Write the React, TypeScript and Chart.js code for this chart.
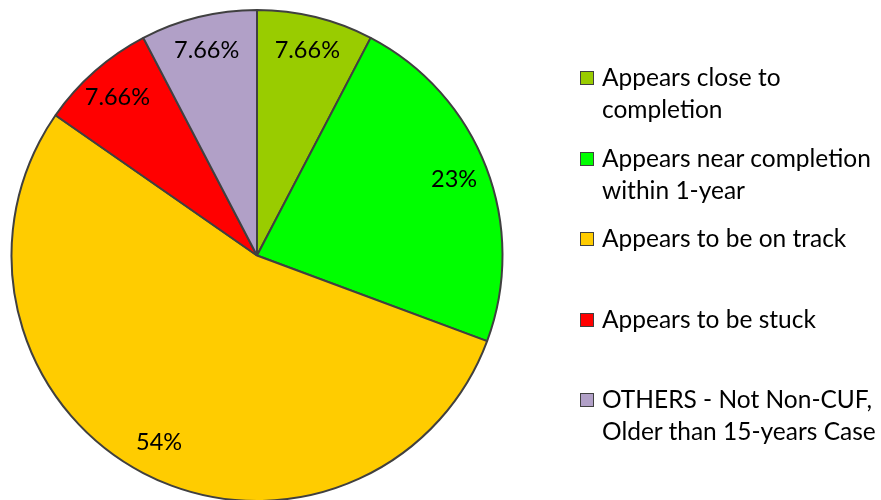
import React, { useEffect, useRef } from "react";
import { Chart, registerables } from "chart.js";

Chart.register(...registerables);

const categories = [
  "Appears close to completion",
  "Appears near completion within 1-year",
  "Appears to be on track",
  "Appears to be stuck",
  "OTHERS - Not Non-CUF, Older than 15-years Case",
];
const legendLines = [
  ["Appears close to", "completion"],
  ["Appears near completion", "within 1-year"],
  ["Appears to be on track"],
  ["Appears to be stuck"],
  ["OTHERS - Not Non-CUF,", "Older than 15-years Case"],
];
const values = [7.66, 23, 54, 7.66, 7.66];
const valueLabels = ["7.66%", "23%", "54%", "7.66%", "7.66%"];
const colors = ["#99CC00", "#00FF00", "#FFCC00", "#FF0000", "#B1A0C7"];

const FONT = "Lato, 'Open Sans', sans-serif";

const labelPlugin = {
  id: "sliceLabels",
  afterDatasetsDraw(chart: any) {
    const ctx = chart.ctx;
    const meta = chart.getDatasetMeta(0);
    ctx.save();
    ctx.fillStyle = "#000";
    ctx.font = `23.5px ${FONT}`;
    ctx.textAlign = "center";
    ctx.textBaseline = "middle";
    meta.data.forEach((arc: any, i: number) => {
      const p = arc.getProps(["x", "y", "startAngle", "endAngle", "outerRadius"], true);
      const mid = (p.startAngle + p.endAngle) / 2;
      const r = p.outerRadius * 0.86;
      ctx.fillText(valueLabels[i], p.x + Math.cos(mid) * r, p.y + Math.sin(mid) * r);
    });
    ctx.restore();
  },
};

export default function App() {
  const ref = useRef<HTMLCanvasElement | null>(null);
  useEffect(() => {
    document.body.style.margin = "0";
    const chart = new Chart(ref.current as HTMLCanvasElement, {
      type: "pie",
      data: {
        labels: categories,
        datasets: [
          {
            data: values,
            backgroundColor: colors,
            borderColor: "#404040",
            borderWidth: 2,
          },
        ],
      },
      options: {
        animation: false,
        responsive: false,
        layout: { padding: { left: 10, right: 377, top: 9, bottom: 0 } },
        plugins: { legend: { display: false }, tooltip: { enabled: false } },
      },
      plugins: [labelPlugin],
    });
    return () => chart.destroy();
  }, []);

  return (
    <div style={{ position: "relative", width: 881, height: 502, background: "#fff", overflow: "hidden" }}>
      <canvas ref={ref} width={881} height={502} style={{ position: "absolute", left: 0, top: 0 }} />
      <div style={{ position: "absolute", left: 580, top: 61, fontFamily: FONT, fontSize: 24.5, color: "#000" }}>
        {legendLines.map((lines, i) => (
          <div key={i} style={{ height: 80.5, position: "relative" }}>
            <div
              style={{
                position: "absolute",
                left: 0,
                top: 10,
                width: 12,
                height: 12,
                background: colors[i],
                border: "1px solid #404040",
              }}
            />
            <div style={{ position: "absolute", left: 22, top: 0, lineHeight: "32px", whiteSpace: "nowrap" }}>
              {lines.map((l, j) => (
                <div key={j}>{l}</div>
              ))}
            </div>
          </div>
        ))}
      </div>
    </div>
  );
}
